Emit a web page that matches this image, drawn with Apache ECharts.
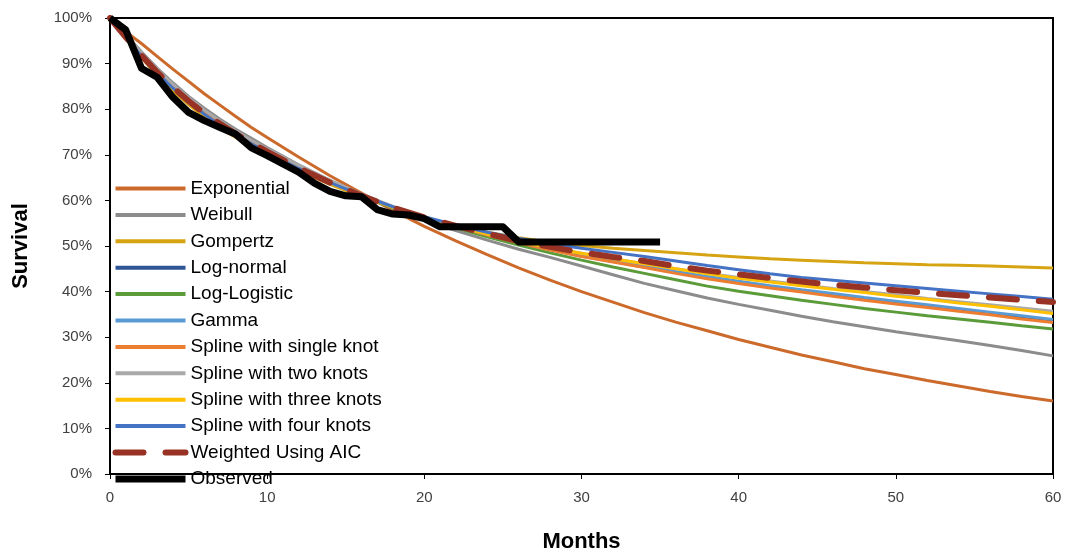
<!DOCTYPE html>
<html>
<head>
<meta charset="utf-8">
<script src="https://cdn.jsdelivr.net/npm/echarts@6/dist/echarts.min.js"></script>
<style>
  html, body { margin: 0; padding: 0; background: #fff; }
  #chart { width: 1067px; height: 556px; }
</style>
</head>
<body>
<div id="chart"></div>
<script>
// months at which the fitted curves are read
const months = [0, 1, 2, 3, 4, 5, 6, 7, 8, 9, 10, 12, 14, 16, 18, 20, 22, 24, 26, 28, 30,
  32, 34, 36, 38, 40, 42, 44, 46, 48, 50, 52, 54, 56, 58, 60]

const exponential = [100, 97.0, 94.4, 91.6, 88.8, 86.1, 83.4, 80.9, 78.4, 76.0, 73.8, 69.5, 65.4, 61.6, 57.8, 54.3,
  51.1, 48.1, 45.2, 42.5, 40.0, 37.7, 35.4, 33.3, 31.4, 29.5, 27.8, 26.1, 24.6, 23.1, 21.8, 20.5, 19.3, 18.1, 17.0, 16.0]
const weibull = [100, 96.4, 92.6, 89.0, 85.8, 82.8, 80.2, 77.8, 75.6, 73.6, 71.6, 67.8, 64.4, 61.3, 58.3, 55.6,
  53.4, 51.3, 49.3, 47.5, 45.6, 43.7, 41.8, 40.2, 38.6, 37.2, 35.9, 34.6, 33.4, 32.3, 31.2, 30.2, 29.2, 28.2, 27.1, 25.9]
const gompertz = [100, 95.5, 91.3, 87.5, 84.0, 81.0, 78.3, 75.9, 73.8, 71.8, 70.0, 66.5, 63.5, 60.8, 58.4, 56.3,
  54.5, 53.0, 51.8, 50.8, 50.1, 49.5, 49.0, 48.5, 48.0, 47.6, 47.2, 46.9, 46.6, 46.3, 46.1, 45.9, 45.8, 45.6, 45.4, 45.2]
const logNormal = [100, 95.9, 91.9, 88.2, 84.8, 81.8, 79.1, 76.8, 74.6, 72.6, 70.7, 67.1, 63.9, 61.0, 58.4, 56.2,
  54.2, 52.4, 50.8, 49.3, 47.8, 46.6, 45.4, 44.2, 43.1, 42.1, 41.1, 40.2, 39.4, 38.5, 37.7, 36.9, 36.1, 35.3, 34.5, 33.7]
const logLogistic = [100, 95.8, 91.8, 88.1, 84.8, 81.8, 79.2, 76.9, 74.8, 72.8, 70.8, 67.2, 64.0, 61.0, 58.3, 56.0,
  54.0, 52.0, 50.2, 48.5, 46.9, 45.4, 44.0, 42.6, 41.2, 40.1, 39.1, 38.1, 37.2, 36.3, 35.5, 34.7, 34.0, 33.3, 32.5, 31.8]
const gamma = [100, 95.9, 91.9, 88.2, 84.9, 81.9, 79.2, 76.9, 74.7, 72.7, 70.8, 67.2, 64.0, 61.1, 58.5, 56.2,
  54.3, 52.5, 50.9, 49.4, 47.9, 46.8, 45.6, 44.4, 43.3, 42.3, 41.3, 40.4, 39.6, 38.7, 37.9, 37.1, 36.3, 35.5, 34.7, 33.9]
const splineOne = [100, 96.0, 92.0, 88.3, 85.0, 82.0, 79.3, 77.0, 74.8, 72.8, 70.9, 67.3, 64.1, 61.2, 58.5, 56.2,
  54.3, 52.4, 50.7, 49.1, 47.7, 46.5, 45.3, 44.0, 42.8, 41.8, 40.8, 39.9, 39.0, 38.1, 37.3, 36.5, 35.7, 34.9, 34.0, 33.2]
const splineTwo = [100, 96.2, 92.4, 88.8, 85.5, 82.5, 79.8, 77.4, 75.2, 73.2, 71.3, 67.7, 64.4, 61.4, 58.7, 56.3,
  54.4, 52.6, 51.0, 49.6, 48.4, 47.2, 46.1, 45.0, 44.0, 43.1, 42.3, 41.5, 40.7, 40.0, 39.3, 38.5, 37.8, 37.1, 36.4, 35.7]
const splineThree = [100, 95.7, 91.6, 87.9, 84.5, 81.5, 78.8, 76.4, 74.3, 72.3, 70.4, 66.9, 63.8, 61.0, 58.5, 56.3,
  54.4, 52.6, 51.0, 49.6, 48.4, 47.2, 46.1, 45.0, 43.9, 42.9, 42.1, 41.3, 40.5, 39.8, 39.0, 38.3, 37.5, 36.8, 36.0, 35.2]
const splineFour = [100, 95.8, 91.7, 88.0, 84.6, 81.6, 78.9, 76.5, 74.4, 72.4, 70.5, 67.0, 63.9, 61.1, 58.6, 56.4,
  54.6, 53.0, 51.7, 50.5, 49.5, 48.6, 47.7, 46.7, 45.7, 44.8, 43.9, 43.1, 42.5, 41.9, 41.3, 40.7, 40.1, 39.5, 38.9, 38.3]
const weightedAIC = [100, 95.8, 91.8, 88.1, 84.8, 81.8, 79.1, 76.8, 74.6, 72.6, 70.7, 67.1, 63.9, 61.0, 58.4, 56.3,
  54.4, 52.7, 51.1, 49.8, 48.6, 47.6, 46.7, 45.6, 44.6, 43.8, 43.0, 42.2, 41.5, 40.9, 40.3, 39.7, 39.2, 38.7, 38.2, 37.7]

// Kaplan-Meier observed survival
const obsMonths = [0, 1, 2, 3, 4, 5, 6, 7, 8, 9, 10, 11, 12, 13, 14, 15, 16, 17, 18, 19, 20, 21, 25, 26, 35]
const observed = [100, 97.4, 89.0, 87.0, 82.6, 79.3, 77.5, 76.0, 74.5, 71.5, 69.8, 68.0, 66.2, 63.8, 62.0, 61.0,
  60.8, 58.0, 57.0, 56.8, 56.0, 54.2, 54.2, 50.9, 50.9]

const yTicks = [0, 10, 20, 30, 40, 50, 60, 70, 80, 90, 100]
const xTicks = [0, 10, 20, 30, 40, 50, 60]

const font = '"Liberation Sans", Arial, sans-serif'

const models = [
  { name: 'Exponential', data: exponential, color: '#CC6A2C' },
  { name: 'Weibull', data: weibull, color: '#8C8C8C' },
  { name: 'Gompertz', data: gompertz, color: '#D6A412' },
  { name: 'Log-normal', data: logNormal, color: '#2F5597' },
  { name: 'Log-Logistic', data: logLogistic, color: '#5B9B3A' },
  { name: 'Gamma', data: gamma, color: '#5B9BD5' },
  { name: 'Spline with single knot', data: splineOne, color: '#ED7D31' },
  { name: 'Spline with two knots', data: splineTwo, color: '#A9A9A9' },
  { name: 'Spline with three knots', data: splineThree, color: '#FFC000' },
  { name: 'Spline with four knots', data: splineFour, color: '#4472C4' },
]

const series = models.map(m => ({
  name: m.name,
  type: 'line',
  symbol: 'none',
  data: months.map((t, i) => [t, m.data[i]]),
  lineStyle: { color: m.color, width: 3 },
  itemStyle: { color: m.color },
}))

series.push({
  name: 'Weighted Using AIC',
  type: 'line',
  symbol: 'none',
  data: months.map((t, i) => [t, weightedAIC[i]]),
  lineStyle: { color: '#973224', width: 6, type: [28, 22], cap: 'round' },
  itemStyle: { color: '#973224' },
})

series.push({
  name: 'Observed',
  type: 'line',
  symbol: 'none',
  data: obsMonths.map((t, i) => [t, observed[i]]),
  lineStyle: { color: '#000', width: 7, join: 'round' },
  itemStyle: { color: '#000' },
})

// legend entries: line only, same thickness as in the chart
const legendData = series.map(s => ({
  name: s.name,
  itemStyle: { opacity: 0 },
  lineStyle: {
    color: s.lineStyle.color,
    width: s.name === 'Observed' ? 7 : (s.name === 'Weighted Using AIC' ? 6 : 4),
    type: s.lineStyle.type || 'solid',
  },
}))

const chart = echarts.init(document.getElementById('chart'))
chart.setOption({
  animation: false,
  textStyle: { fontFamily: font },
  grid: {
    left: 110, right: 14, top: 18, bottom: 82,
    outerBoundsMode: 'none',
    show: true, borderColor: '#000', borderWidth: 2,
  },
  legend: {
    orient: 'vertical',
    left: 107, top: 174,
    itemWidth: 70, itemHeight: 14, itemGap: 7.4,
    textStyle: { fontFamily: font, fontSize: 19, color: '#000' },
    data: legendData,
  },
  xAxis: {
    type: 'value',
    min: 0, max: 60, interval: 10,
    name: 'Months',
    nameLocation: 'middle',
    nameGap: 57,
    nameTextStyle: { fontFamily: font, fontSize: 22, fontWeight: 'bold', color: '#000' },
    axisLine: { lineStyle: { color: '#000', width: 2 } },
    axisTick: { show: true, length: 5, lineStyle: { color: '#000' } },
    axisLabel: { fontSize: 15, color: '#404040', margin: 16, formatter: v => xTicks.includes(v) ? String(v) : '' },
    splitLine: { show: false },
  },
  yAxis: {
    type: 'value',
    min: 0, max: 100, interval: 10,
    name: 'Survival',
    nameLocation: 'middle',
    nameGap: 78,
    nameTextStyle: { fontFamily: font, fontSize: 22, fontWeight: 'bold', color: '#000' },
    axisLine: { lineStyle: { color: '#000', width: 2 } },
    axisTick: { show: true, length: 5, lineStyle: { color: '#000' } },
    axisLabel: { fontSize: 15, color: '#404040', margin: 18, formatter: v => yTicks.includes(v) ? v + '%' : '' },
    splitLine: { show: false },
  },
  series,
})
</script>
</body>
</html>
